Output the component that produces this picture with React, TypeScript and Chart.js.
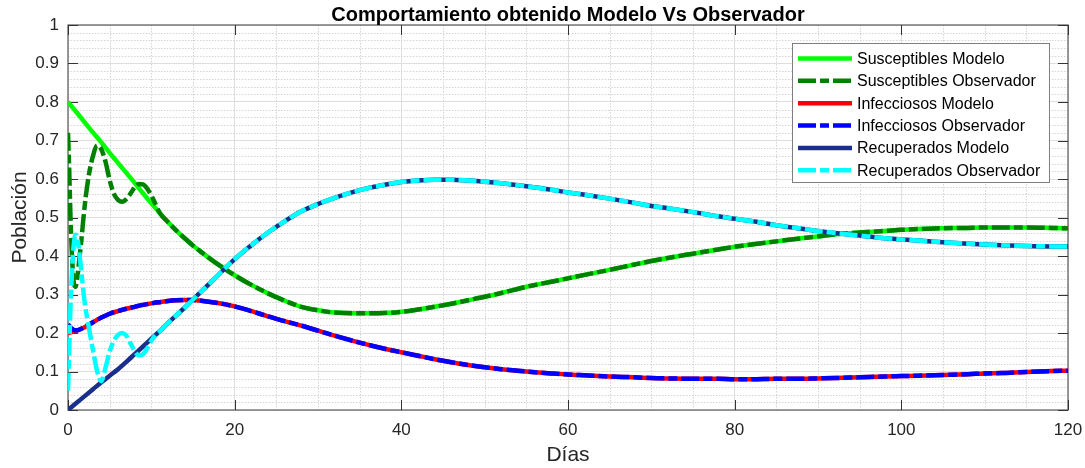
import React, { useEffect, useRef } from "react";
import { Chart, registerables } from "chart.js";

Chart.register(...registerables);

const FONT = "'Liberation Sans', Arial, Helvetica, sans-serif";

// ---- Data ----
const diasModelo = [0, 1, 2, 3, 4, 5, 6, 7, 8, 9, 10, 11, 12, 13, 14, 15, 16, 18, 20, 22, 24, 26, 28, 30, 32, 35, 38, 40, 42, 44, 46, 48, 50, 52, 55, 58, 60, 62, 65, 68, 70, 72, 75, 78, 80, 82, 85, 88, 90, 92, 95, 98, 100, 102, 105, 108, 110, 112, 115, 118, 120];

const susceptiblesModelo = [0.8, 0.774, 0.747, 0.721, 0.695, 0.668, 0.642, 0.616, 0.59, 0.563, 0.537, 0.512, 0.488, 0.466, 0.446, 0.427, 0.41, 0.378, 0.35, 0.325, 0.303, 0.284, 0.268, 0.259, 0.253, 0.251, 0.252, 0.255, 0.261, 0.268, 0.276, 0.285, 0.294, 0.304, 0.32, 0.333, 0.342, 0.351, 0.364, 0.378, 0.387, 0.395, 0.406, 0.417, 0.424, 0.43, 0.438, 0.446, 0.451, 0.456, 0.461, 0.465, 0.468, 0.47, 0.472, 0.473, 0.474, 0.474, 0.474, 0.473, 0.472];

const infecciososModelo = [0.2, 0.206, 0.215, 0.228, 0.24, 0.25, 0.257, 0.263, 0.268, 0.273, 0.277, 0.28, 0.283, 0.285, 0.286, 0.286, 0.284, 0.278, 0.269, 0.257, 0.243, 0.231, 0.219, 0.206, 0.193, 0.175, 0.159, 0.15, 0.141, 0.132, 0.124, 0.117, 0.111, 0.106, 0.1, 0.095, 0.092, 0.09, 0.087, 0.085, 0.083, 0.082, 0.081, 0.081, 0.08, 0.08, 0.081, 0.081, 0.082, 0.083, 0.085, 0.087, 0.088, 0.089, 0.091, 0.093, 0.095, 0.096, 0.099, 0.101, 0.102];

const recuperadosModelo = [0, 0.018, 0.036, 0.054, 0.072, 0.089, 0.106, 0.125, 0.145, 0.165, 0.185, 0.205, 0.226, 0.246, 0.266, 0.287, 0.308, 0.35, 0.392, 0.428, 0.461, 0.49, 0.516, 0.535, 0.551, 0.571, 0.585, 0.592, 0.596, 0.598, 0.598, 0.596, 0.593, 0.589, 0.581, 0.572, 0.565, 0.559, 0.549, 0.538, 0.53, 0.524, 0.514, 0.503, 0.497, 0.491, 0.48, 0.471, 0.465, 0.46, 0.453, 0.446, 0.443, 0.44, 0.436, 0.432, 0.43, 0.428, 0.426, 0.425, 0.425];

// Observer transient (before it converges onto the model from day 11 on)
const diasObsInicio = [0, 0.15, 0.3, 0.5, 0.7, 0.9, 1.1, 1.3, 1.6, 2, 2.5, 3, 3.5, 4, 4.5, 5, 5.5, 6, 6.5, 7, 7.5, 8, 8.5, 9, 9.5, 10, 10.5];
const susceptiblesObsInicio = [0.72, 0.62, 0.5, 0.39, 0.33, 0.32, 0.34, 0.38, 0.44, 0.53, 0.61, 0.66, 0.687, 0.677, 0.645, 0.597, 0.562, 0.546, 0.541, 0.548, 0.562, 0.578, 0.587, 0.586, 0.575, 0.557, 0.535];
const infecciososObsInicio = [0.223, 0.219, 0.215, 0.211, 0.208, 0.207, 0.207, 0.208, 0.211, 0.216, 0.222, 0.228, 0.234, 0.24, 0.245, 0.25, 0.254, 0.257, 0.26, 0.263, 0.266, 0.268, 0.271, 0.273, 0.275, 0.277, 0.279];
const recuperadosObsInicio = [0.05, 0.16, 0.27, 0.37, 0.43, 0.455, 0.45, 0.42, 0.36, 0.28, 0.215, 0.155, 0.1, 0.075, 0.11, 0.152, 0.18, 0.195, 0.2, 0.193, 0.173, 0.153, 0.142, 0.145, 0.16, 0.18, 0.195];
const diaConvergencia = 11;

const xTicks = [0, 20, 40, 60, 80, 100, 120];
const yTickLabels = ["0", "0.1", "0.2", "0.3", "0.4", "0.5", "0.6", "0.7", "0.8", "0.9", "1"];

const leyenda = [
  "Susceptibles Modelo",
  "Susceptibles Observador",
  "Infecciosos Modelo",
  "Infecciosos Observador",
  "Recuperados Modelo",
  "Recuperados Observador",
];

const colores = ["#00ff00", "#008000", "#ff0000", "#0000ff", "#1a2e8c", "#00ffff"];
const DASH = [18, 4, 9, 4];

const modelPoints = (vals: number[]) => diasModelo.map((x, i) => ({ x, y: vals[i] }));
const obsPoints = (ini: number[], model: number[]) => [
  ...diasObsInicio.map((x, i) => ({ x, y: ini[i] })),
  ...diasModelo.map((x, i) => ({ x, y: model[i] })).filter((p) => p.x >= diaConvergencia),
];

const framePlugin = {
  id: "frame",
  beforeDatasetsDraw(chart: any) {
    const { ctx, chartArea } = chart;
    const { left, right, top, bottom } = chartArea;
    const xs = chart.scales.x;
    const ys = chart.scales.y;
    ctx.save();
    // minor grid
    ctx.strokeStyle = "#d4d4d4";
    ctx.lineWidth = 1;
    ctx.setLineDash([1.5, 1.5]);
    for (let v = 5; v < 120; v += 5) {
      if (v % 20 === 0) continue;
      const px = Math.round(xs.getPixelForValue(v)) + 0.5;
      ctx.beginPath();
      ctx.moveTo(px, top);
      ctx.lineTo(px, bottom);
      ctx.stroke();
    }
    for (let k = 1; k < 50; k++) {
      if (k % 5 === 0) continue;
      const py = Math.round(ys.getPixelForValue(k * 0.02)) + 0.5;
      ctx.beginPath();
      ctx.moveTo(left, py);
      ctx.lineTo(right, py);
      ctx.stroke();
    }
    ctx.setLineDash([]);
    // box
    ctx.strokeStyle = "#666666";
    ctx.lineWidth = 1.3;
    ctx.strokeRect(left, top, right - left, bottom - top);
    // inward ticks
    ctx.strokeStyle = "#333333";
    ctx.lineWidth = 1;
    const tl = 10;
    xTicks.forEach((v) => {
      const px = Math.round(xs.getPixelForValue(v)) + 0.5;
      ctx.beginPath();
      ctx.moveTo(px, bottom);
      ctx.lineTo(px, bottom - tl);
      ctx.moveTo(px, top);
      ctx.lineTo(px, top + tl);
      ctx.stroke();
    });
    yTickLabels.forEach((_, i) => {
      const py = Math.round(ys.getPixelForValue(i / 10)) + 0.5;
      ctx.beginPath();
      ctx.moveTo(left, py);
      ctx.lineTo(left + tl, py);
      ctx.moveTo(right, py);
      ctx.lineTo(right - tl, py);
      ctx.stroke();
    });
    ctx.restore();
  },
  afterDraw(chart: any) {
    const { ctx, chartArea } = chart;
    const cx = (chartArea.left + chartArea.right) / 2;
    const cy = (chartArea.top + chartArea.bottom) / 2;
    ctx.save();
    // title
    ctx.fillStyle = "#000";
    ctx.font = `bold 20px ${FONT}`;
    ctx.textAlign = "center";
    ctx.textBaseline = "alphabetic";
    ctx.fillText("Comportamiento obtenido Modelo Vs Observador", cx, 21);
    // axis labels
    ctx.fillStyle = "#262626";
    ctx.font = `21px ${FONT}`;
    ctx.textBaseline = "middle";
    ctx.fillText("Días", cx, 455);
    ctx.save();
    ctx.translate(20, cy);
    ctx.rotate(-Math.PI / 2);
    ctx.fillText("Población", 0, 0);
    ctx.restore();
    // legend
    const bx = 792.5, by = 43.5, bw = 257, bh = 139;
    ctx.fillStyle = "#ffffff";
    ctx.fillRect(bx, by, bw, bh);
    ctx.strokeStyle = "#7f7f7f";
    ctx.lineWidth = 1;
    ctx.strokeRect(bx, by, bw, bh);
    ctx.font = `16px ${FONT}`;
    ctx.textAlign = "left";
    leyenda.forEach((t, i) => {
      const y = 58.5 + i * 22.35;
      ctx.strokeStyle = colores[i];
      ctx.lineWidth = 4.5;
      ctx.lineCap = "butt";
      ctx.setLineDash(i % 2 === 1 ? DASH : []);
      ctx.beginPath();
      ctx.moveTo(798, y);
      ctx.lineTo(852, y);
      ctx.stroke();
      ctx.setLineDash([]);
      ctx.fillStyle = "#000";
      ctx.fillText(t, 857, y + 1);
    });
    ctx.restore();
  },
};

export default function App() {
  const ref = useRef<HTMLCanvasElement>(null);
  useEffect(() => {
    const series = [
      modelPoints(susceptiblesModelo),
      obsPoints(susceptiblesObsInicio, susceptiblesModelo),
      modelPoints(infecciososModelo),
      obsPoints(infecciososObsInicio, infecciososModelo),
      modelPoints(recuperadosModelo),
      obsPoints(recuperadosObsInicio, recuperadosModelo),
    ];
    const chart = new Chart(ref.current as HTMLCanvasElement, {
      type: "line",
      data: {
        datasets: series.map((d, i) => ({
          label: leyenda[i],
          data: d,
          borderColor: colores[i],
          backgroundColor: colores[i],
          borderWidth: 4.5,
          borderDash: i % 2 === 1 ? DASH : [],
          borderCapStyle: "butt",
          borderJoinStyle: "round",
          pointRadius: 0,
          fill: false,
          cubicInterpolationMode: "monotone",
          order: 6 - i,
        })) as any,
      },
      options: {
        responsive: false,
        animation: false,
        events: [],
        layout: { padding: { top: 25, right: 17, left: 0, bottom: 0 } },
        plugins: {
          legend: { display: false },
          title: { display: false },
          tooltip: { enabled: false },
        },
        scales: {
          x: {
            type: "linear",
            min: 0,
            max: 120,
            afterFit: (s: any) => {
              s.height = 58;
              s.paddingLeft = 0;
              s.paddingRight = 0;
            },
            afterBuildTicks: (s: any) => {
              s.ticks = xTicks.map((v) => ({ value: v }));
            },
            ticks: {
              color: "#262626",
              font: { family: FONT, size: 17 },
              padding: 10,
              maxRotation: 0,
              autoSkip: false,
            },
            grid: { color: "#dedede", lineWidth: 1, drawTicks: false },
            border: { display: false },
          },
          y: {
            type: "linear",
            min: 0,
            max: 1,
            afterFit: (s: any) => {
              s.width = 68;
              s.paddingTop = 0;
              s.paddingBottom = 0;
            },
            afterBuildTicks: (s: any) => {
              s.ticks = yTickLabels.map((_, i) => ({ value: i / 10 }));
            },
            ticks: {
              color: "#262626",
              font: { family: FONT, size: 17 },
              padding: 9,
              autoSkip: false,
              callback: (_v: any, i: number) => yTickLabels[i],
            },
            grid: { color: "#dedede", lineWidth: 1, drawTicks: false },
            border: { display: false },
          },
        },
      },
      plugins: [framePlugin],
    });
    return () => chart.destroy();
  }, []);
  return (
    <div style={{ position: "absolute", left: 0, top: 0, width: 1085, height: 468, background: "#fff" }}>
      <canvas ref={ref} width={1085} height={468} style={{ display: "block", width: 1085, height: 468 }} />
    </div>
  );
}
